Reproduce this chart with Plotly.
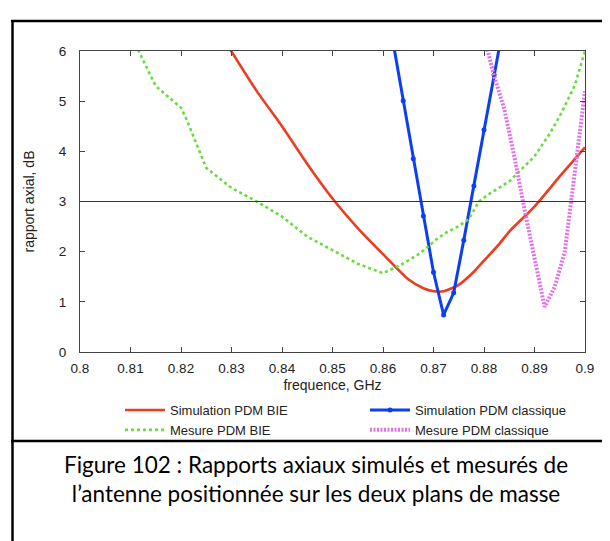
import plotly.graph_objects as go

# Simulation PDM BIE (red)
freq_sim_bie = [0.829, 0.835, 0.840, 0.845, 0.850, 0.855, 0.860, 0.865, 0.868, 0.870,
                0.872, 0.875, 0.878, 0.880, 0.883, 0.885, 0.890, 0.895, 0.900]
ar_sim_bie = [6.15, 5.20, 4.50, 3.75, 3.06, 2.47, 1.95, 1.45, 1.27, 1.21,
              1.21, 1.34, 1.60, 1.82, 2.15, 2.40, 2.90, 3.50, 4.08]

# Simulation PDM classique (blue, with markers)
freq_sim_cla = [0.862, 0.864, 0.866, 0.868, 0.870, 0.872, 0.874, 0.876, 0.878, 0.880, 0.882, 0.884]
ar_sim_cla = [6.17, 5.01, 3.85, 2.71, 1.59, 0.74, 1.18, 2.23, 3.31, 4.43, 5.52, 6.60]

# Mesure PDM BIE (green dotted)
freq_mes_bie = [0.810, 0.8116, 0.815, 0.820, 0.821, 0.825, 0.830, 0.835, 0.840, 0.845,
                0.850, 0.855, 0.860, 0.8636, 0.8674, 0.8705, 0.8725, 0.875, 0.877, 0.879,
                0.881, 0.885, 0.890, 0.893, 0.895, 0.898, 0.900]
ar_mes_bie = [6.35, 6.00, 5.30, 4.87, 4.66, 3.67, 3.27, 3.00, 2.70, 2.30,
              2.03, 1.76, 1.57, 1.74, 1.97, 2.24, 2.38, 2.51, 2.65, 3.00,
              3.15, 3.40, 3.90, 4.35, 4.70, 5.32, 6.00]

# Mesure PDM classique (magenta dotted)
freq_mes_cla = [0.880, 0.882, 0.884, 0.886, 0.888, 0.890, 0.892, 0.894, 0.896, 0.898, 0.900]
ar_mes_cla = [6.30, 5.50, 4.85, 3.90, 2.85, 1.85, 0.90, 1.30, 2.00, 3.60, 5.20]

x_tickvals = [0.80, 0.81, 0.82, 0.83, 0.84, 0.85, 0.86, 0.87, 0.88, 0.89, 0.90]
x_ticktext = ["0.8", "0.81", "0.82", "0.83", "0.84", "0.85", "0.86", "0.87", "0.88", "0.89", "0.9"]
y_tickvals = [0, 1, 2, 3, 4, 5, 6]

threshold = 3

caption = "Figure 102 : Rapports axiaux simulés et mesurés de<br>l’antenne positionnée sur les deux plans de masse"

W, H = 610, 541
L, R, T, B = 72, 33, 43, 197
pw, ph = W - L - R, H - T - B


def px(x):
    return (x - L) / pw


def py(y):
    return (H - B - y) / ph


fig = go.Figure()

fig.add_trace(go.Scatter(x=freq_sim_bie, y=ar_sim_bie, name="Simulation PDM BIE", mode="lines",
                         line=dict(color="#eb3d1f", width=2.6, shape="spline", smoothing=0.6)))
fig.add_trace(go.Scatter(x=freq_sim_cla, y=ar_sim_cla, name="Simulation PDM classique",
                         mode="lines+markers",
                         line=dict(color="#0b3ff0", width=3),
                         marker=dict(size=5, color="#0b3ff0")))
fig.add_trace(go.Scatter(x=freq_mes_bie, y=ar_mes_bie, name="Mesure PDM BIE", mode="lines",
                         line=dict(color="#66dd3c", width=2.6, dash="dot")))
fig.add_trace(go.Scatter(x=freq_mes_cla, y=ar_mes_cla, name="Mesure PDM classique", mode="lines",
                         line=dict(color="#e272e8", width=4, dash="2px,1.5px")))

fig.add_hline(y=threshold, line=dict(color="#333333", width=1))

font_family = "Liberation Sans, Arial, sans-serif"
axis_font = dict(family=font_family, size=13.5, color="#222222")

fig.update_xaxes(range=[0.8, 0.9], tickvals=x_tickvals, ticktext=x_ticktext,
                 showgrid=False, zeroline=False, showline=True, linecolor="#444444", linewidth=1,
                 mirror="ticks", ticks="inside", ticklen=5, tickcolor="#444444",
                 tickfont=axis_font, ticklabelstandoff=4,
                 title=dict(text="frequence, GHz", font=dict(family=font_family, size=14, color="#222222"),
                            standoff=4))
fig.update_yaxes(range=[0, 6], tickvals=y_tickvals,
                 showgrid=False, zeroline=False, showline=True, linecolor="#444444", linewidth=1,
                 mirror="ticks", ticks="inside", ticklen=5, tickcolor="#444444",
                 tickfont=axis_font, ticklabelstandoff=10,
                 title=dict(text="rapport axial, dB", font=dict(family=font_family, size=14, color="#222222"),
                            standoff=20))

# table borders around the figure
fig.add_shape(type="line", xref="paper", yref="paper", x0=px(3), x1=px(W), y0=py(13), y1=py(13),
              line=dict(color="black", width=2.5))
fig.add_shape(type="line", xref="paper", yref="paper", x0=px(4.5), x1=px(4.5), y0=py(12), y1=py(H),
              line=dict(color="black", width=2.5))
fig.add_shape(type="line", xref="paper", yref="paper", x0=px(3), x1=px(W), y0=py(433), y1=py(433),
              line=dict(color="black", width=2.5))

fig.add_annotation(text=caption, xref="paper", yref="paper", x=px(308), y=py(471),
                   xanchor="center", yanchor="middle", showarrow=False, align="center",
                   font=dict(family="Lato, Carlito, sans-serif", size=22.5, color="black"))

fig.update_layout(
    width=W, height=H,
    margin=dict(l=L, r=R, t=T, b=B, autoexpand=False),
    paper_bgcolor="white", plot_bgcolor="white",
    showlegend=True,
    legend=dict(orientation="h", x=px(112), y=py(387), xanchor="left", yanchor="top",
                entrywidth=190, entrywidthmode="pixels", traceorder="normal",
                font=dict(family=font_family, size=13, color="#222222"),
                bgcolor="rgba(0,0,0,0)", tracegroupgap=0, itemwidth=40),
)

fig.write_html("out.html")
